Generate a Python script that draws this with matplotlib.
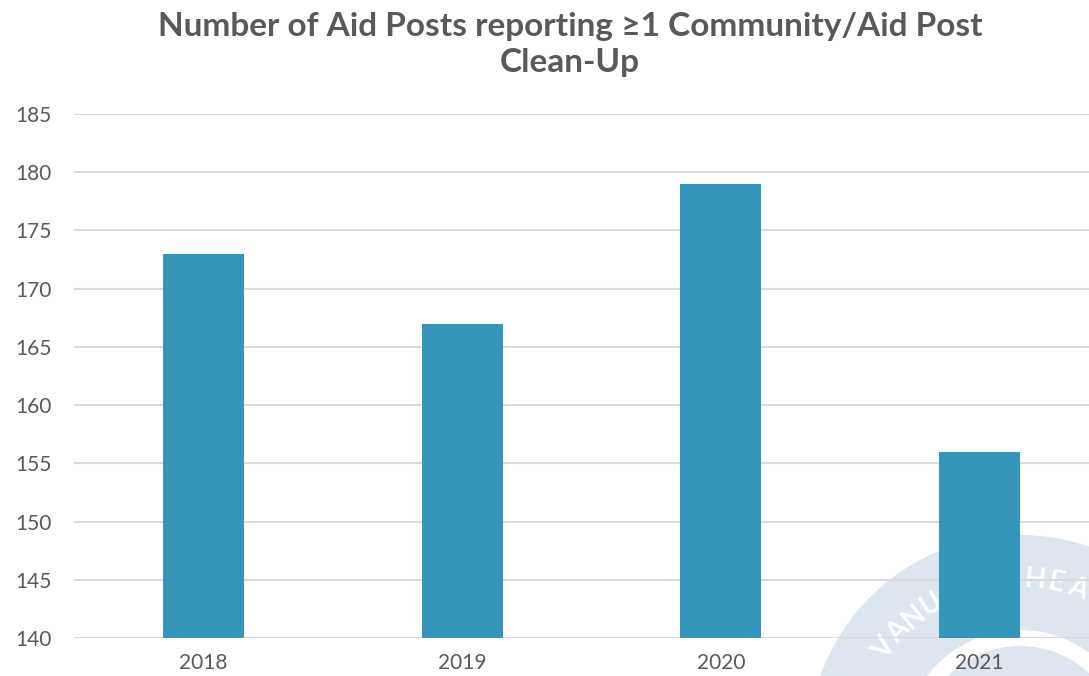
import matplotlib.pyplot as plt
from matplotlib.patches import Circle, Wedge
import numpy as np

plt.rcParams['font.family'] = ['Lato', 'DejaVu Sans']

years = ["2018", "2019", "2020", "2021"]
aid_posts = [173, 167, 179, 156]
y_ticks = [140, 145, 150, 155, 160, 165, 170, 175, 180, 185]
title = "Number of Aid Posts reporting \u22651 Community/Aid Post\nClean-Up"

W, H = 1089, 676
fig = plt.figure(figsize=(W / 100, H / 100), dpi=100)

# faint logo watermark in the bottom right, in pixel coords
bg = fig.add_axes([0, 0, 1, 1], zorder=0)
bg.set_xlim(0, W)
bg.set_ylim(H, 0)
bg.axis("off")
cx, cy = 1020, 747
bg.add_patch(Circle((cx, cy), 212, color="#dde5ee", lw=0))
bg.add_patch(Wedge((cx, cy), 117, 0, 360, width=16, color="white", lw=0))
letters = "VANUATU HEA"
for k, ch in enumerate(letters):
    ang = 144 - 7.4 * k
    a = np.deg2rad(ang)
    bg.text(cx + 168 * np.cos(a), cy - 168 * np.sin(a), ch, color="white",
            fontsize=20, fontweight="bold", rotation=ang - 90,
            ha="center", va="center")

ax = fig.add_axes([74 / W, 38 / H, 4 * 258.7 / W, 524 / H], zorder=1)
ax.set_facecolor("none")

x = np.arange(len(years))
ax.bar(x, aid_posts, width=0.313, color="#3595ba", zorder=3)
ax.set_xlim(-0.5, 3.5)
ax.set_ylim(140, 185)
ax.set_yticks(y_ticks)
ax.set_xticks(x)
ax.set_xticklabels(years)
ax.grid(axis="y", color="#d9d9d9", lw=1.5, zorder=0)
ax.set_axisbelow(True)
for s in ax.spines.values():
    s.set_visible(False)
ax.tick_params(axis="both", length=0, labelsize=15, colors="#595959")
ax.tick_params(axis="y", pad=16)
ax.tick_params(axis="x", pad=11)

fig.text(570 / W, 1 - 12 / H, title, ha="center", va="top", fontsize=24,
         fontweight="bold", color="#595959", linespacing=1.3)

fig.savefig("out.png", dpi=100)
